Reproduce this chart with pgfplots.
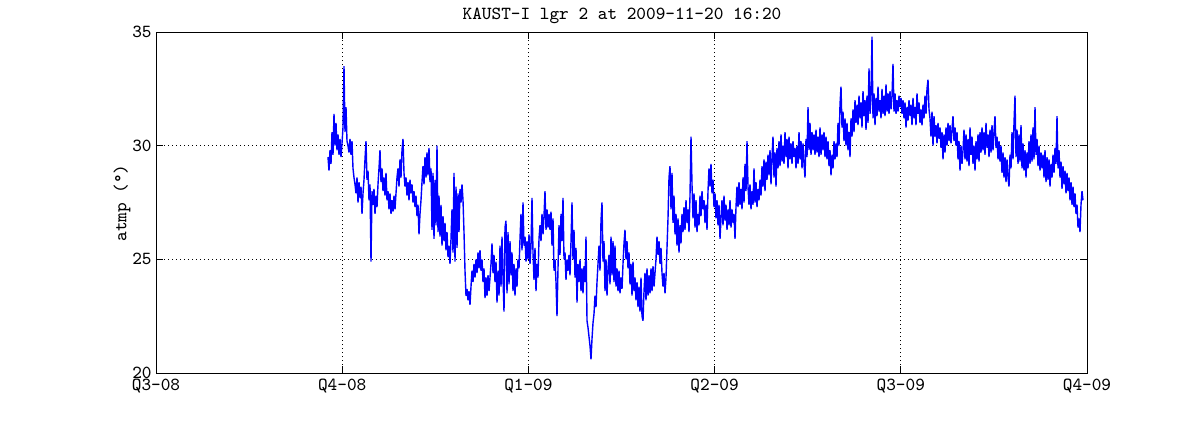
\documentclass[border=0pt]{standalone}
\usepackage{pgfplots}
\pgfplotsset{compat=1.18}
\begin{document}
\begin{tikzpicture}
\path[use as bounding box] (0,0) rectangle (600pt,210pt);
\begin{axis}[
  at={(78pt,23.5pt)}, anchor=south west,
  scale only axis, width=465.5pt, height=170.5pt,
  xmin=0, xmax=931, ymin=20, ymax=35,
  xtick={0,186.2,372.4,558.6,744.8,931},
  xticklabels={Q3-08,Q4-08,Q1-09,Q2-09,Q3-09,Q4-09},
  ytick={20,25,30,35},
  yticklabels={20,25,30,35},
  tick align=inside, major tick length=3.5pt,
  xtick pos=both, ytick pos=both,
  every tick/.style={black, line width=0.5pt},
  axis line style={black, line width=0.5pt},
  grid=major,
  major grid style={black, line width=0.45pt, dash pattern=on 0.5pt off 1.5pt},
  ticklabel style={font=\fontsize{9.2}{10}\ttfamily},
  xticklabel style={anchor=base, yshift=-8.6pt},
  yticklabel style={anchor=east, inner xsep=0pt, xshift=-2pt},
]
\addplot[blue, line width=0.7pt, mark=none, line join=miter, miter limit=2] coordinates {
(172,29.5)(173,28.9)(174,29.8)(175,29.2)(176,30.6)(177,29.6)(178,31.4)(179,30.0)(180,31.0)(181,29.8)
(182,30.5)(183,29.6)(184,30.3)(185,29.5)(186,30.1)(187,30.8)(188,33.5)(189,30.6)(190,31.7)(191,30.2)
(192,30.0)(193,29.7)(194,30.3)(195,29.6)(196,30.2)(197,29.0)(198,28.6)(199,28.3)(200,27.9)(201,28.6)
(202,27.5)(203,28.4)(204,27.7)(205,28.2)(206,27.0)(207,27.9)(208,28.5)(209,29.4)(210,30.2)(211,28.5)
(212,28.9)(213,27.6)(214,28.3)(215,24.9)(216,28.0)(217,27.4)(218,28.1)(219,27.0)(220,27.8)(221,27.3)
(222,28.3)(223,29.0)(224,29.8)(225,28.4)(226,29.0)(227,28.0)(228,28.6)(229,27.8)(230,28.8)(231,27.6)
(232,28.0)(233,27.2)(234,27.9)(235,27.0)(236,27.6)(237,27.1)(238,27.8)(239,27.2)(240,27.9)(241,28.6)
(242,29.0)(243,28.2)(244,29.4)(245,28.6)(246,29.8)(247,30.3)(248,28.8)(249,28.2)(250,28.6)(251,27.8)
(252,28.4)(253,27.6)(254,28.5)(255,27.9)(256,28.3)(257,27.5)(258,28.0)(259,27.3)(260,27.8)(261,26.9)
(262,27.4)(263,26.1)(264,27.0)(265,27.6)(266,28.4)(267,29.1)(268,28.3)(269,29.5)(270,28.6)(271,29.7)
(272,28.7)(273,29.9)(274,28.4)(275,29.0)(276,26.3)(277,28.8)(278,25.9)(279,28.5)(280,26.5)(281,30.0)
(282,26.2)(283,27.8)(284,26.0)(285,27.4)(286,25.6)(287,26.9)(288,25.8)(289,26.6)(290,25.4)(291,26.2)
(292,25.1)(293,25.6)(294,24.8)(295,25.9)(296,27.2)(297,25.3)(298,28.8)(299,24.9)(300,28.2)(301,25.5)
(302,27.9)(303,26.2)(304,28.1)(305,27.5)(306,28.3)(307,27.6)(308,26.2)(309,24.5)(310,23.4)(311,23.7)
(312,23.2)(313,23.6)(314,23.0)(315,23.8)(316,24.5)(317,24.0)(318,24.8)(319,24.2)(320,25.0)(321,24.4)
(322,25.3)(323,24.6)(324,25.4)(325,24.5)(326,25.0)(327,24.0)(328,24.6)(329,23.3)(330,24.2)(331,23.4)
(332,24.3)(333,23.6)(334,24.2)(335,24.8)(336,25.7)(337,24.4)(338,25.2)(339,24.0)(340,24.9)(341,23.1)
(342,24.5)(343,23.4)(344,25.6)(345,23.8)(346,26.0)(347,24.2)(348,22.7)(349,26.4)(350,26.7)(351,23.5)
(352,26.2)(353,23.9)(354,25.8)(355,24.3)(356,25.3)(357,23.6)(358,24.8)(359,23.4)(360,24.6)(361,23.8)
(362,25.0)(363,24.6)(364,25.9)(365,27.0)(366,25.4)(367,27.5)(368,25.6)(369,26.0)(370,24.9)(371,25.8)
(372,25.0)(373,26.1)(374,24.8)(375,25.6)(376,27.7)(377,25.3)(378,24.1)(379,25.5)(380,23.6)(381,24.8)
(382,24.2)(383,25.9)(384,26.5)(385,25.8)(386,27.0)(387,26.1)(388,26.9)(389,28.0)(390,26.3)(391,27.2)
(392,26.4)(393,27.0)(394,26.3)(395,27.1)(396,25.6)(397,26.8)(398,24.5)(399,25.0)(400,24.0)(401,22.5)
(402,24.6)(403,26.5)(404,25.2)(405,27.0)(406,25.8)(407,27.7)(408,25.0)(409,25.3)(410,24.1)(411,25.0)
(412,24.5)(413,25.2)(414,24.3)(415,25.8)(416,27.5)(417,25.0)(418,26.3)(419,24.2)(420,25.5)(421,23.1)
(422,24.8)(423,24.0)(424,25.0)(425,23.6)(426,24.6)(427,23.5)(428,24.7)(429,24.0)(430,26.0)(431,22.3)
(432,22.0)(433,21.6)(434,21.2)(435,20.6)(436,21.5)(437,22.2)(438,22.6)(439,23.4)(440,22.9)(441,24.0)
(442,24.8)(443,25.6)(444,24.5)(445,26.7)(446,27.5)(447,24.9)(448,25.8)(449,23.6)(450,25.0)(451,23.4)
(452,24.6)(453,25.2)(454,23.9)(455,26.0)(456,24.3)(457,25.8)(458,24.0)(459,25.6)(460,23.8)(461,24.6)
(462,23.6)(463,24.5)(464,23.5)(465,24.2)(466,23.7)(467,24.8)(468,25.7)(469,26.3)(470,25.0)(471,25.8)
(472,24.6)(473,25.3)(474,23.9)(475,24.8)(476,23.4)(477,24.9)(478,23.6)(479,24.2)(480,23.2)(481,24.0)
(482,22.9)(483,23.8)(484,22.7)(485,24.2)(486,22.5)(487,22.3)(488,23.6)(489,24.4)(490,23.2)(491,24.6)
(492,23.4)(493,24.3)(494,23.5)(495,24.6)(496,23.6)(497,24.7)(498,23.8)(499,24.4)(500,25.0)(501,26.0)
(502,25.2)(503,25.8)(504,24.8)(505,25.5)(506,24.4)(507,23.8)(508,24.4)(509,23.5)(510,24.2)(511,25.5)
(512,26.8)(513,28.6)(514,29.1)(515,27.2)(516,28.8)(517,26.6)(518,27.8)(519,26.1)(520,27.0)(521,25.6)
(522,26.8)(523,25.3)(524,26.5)(525,25.7)(526,27.0)(527,26.2)(528,27.3)(529,26.3)(530,27.6)(531,26.6)
(532,27.2)(533,26.2)(534,27.8)(535,30.4)(536,28.3)(537,26.8)(538,27.9)(539,26.4)(540,27.6)(541,26.2)
(542,27.0)(543,26.5)(544,27.8)(545,26.9)(546,28.0)(547,27.2)(548,27.6)(549,26.6)(550,27.4)(551,26.3)
(552,28.0)(553,29.0)(554,28.2)(555,29.2)(556,27.9)(557,28.5)(558,27.3)(559,27.9)(560,26.8)(561,27.6)
(562,26.5)(563,27.4)(564,25.9)(565,26.8)(566,27.6)(567,26.5)(568,27.8)(569,26.7)(570,27.4)(571,26.3)
(572,27.2)(573,26.5)(574,27.6)(575,26.4)(576,27.2)(577,26.6)(578,27.0)(579,25.9)(580,27.3)(581,28.2)
(582,27.3)(583,28.4)(584,27.4)(585,28.1)(586,27.2)(587,28.6)(588,27.5)(589,29.2)(590,28.0)(591,30.2)
(592,28.2)(593,27.4)(594,28.3)(595,27.2)(596,28.0)(597,27.4)(598,29.0)(599,27.5)(600,28.4)(601,27.3)
(602,28.1)(603,27.6)(604,28.5)(605,27.8)(606,29.1)(607,28.2)(608,29.4)(609,28.0)(610,29.3)(611,28.5)
(612,29.6)(613,28.7)(614,29.8)(615,28.3)(616,29.5)(617,30.4)(618,28.6)(619,29.7)(620,28.2)(621,29.9)
(622,29.0)(623,30.2)(624,29.1)(625,30.5)(626,29.3)(627,30.0)(628,29.2)(629,30.6)(630,29.5)(631,30.3)
(632,29.0)(633,30.4)(634,29.4)(635,30.1)(636,29.2)(637,30.2)(638,29.5)(639,29.9)(640,29.0)(641,30.0)
(642,29.2)(643,30.6)(644,29.4)(645,30.2)(646,29.0)(647,30.1)(648,29.2)(649,28.6)(650,30.3)(651,29.5)
(652,31.7)(653,29.8)(654,31.0)(655,29.6)(656,30.6)(657,29.8)(658,30.5)(659,29.6)(660,30.7)(661,29.7)
(662,30.4)(663,29.5)(664,30.8)(665,29.6)(666,30.5)(667,29.8)(668,30.6)(669,29.5)(670,30.4)(671,29.4)
(672,30.2)(673,29.1)(674,29.8)(675,28.7)(676,29.6)(677,29.0)(678,30.2)(679,29.4)(680,30.1)(681,29.5)
(682,31.0)(683,30.0)(684,31.8)(685,32.6)(686,30.8)(687,31.5)(688,30.2)(689,31.2)(690,30.0)(691,31.0)
(692,29.8)(693,30.6)(694,29.5)(695,31.2)(696,30.4)(697,31.6)(698,30.6)(699,32.0)(700,31.0)(701,31.8)
(702,30.9)(703,32.2)(704,31.2)(705,31.9)(706,30.8)(707,32.4)(708,31.3)(709,32.0)(710,30.7)(711,32.2)
(712,31.0)(713,33.4)(714,31.4)(715,32.1)(716,34.8)(717,31.2)(718,32.3)(719,30.9)(720,32.1)(721,31.3)
(722,32.6)(723,31.5)(724,32.0)(725,31.2)(726,32.5)(727,31.4)(728,32.2)(729,31.3)(730,32.7)(731,31.5)
(732,32.3)(733,31.4)(734,32.4)(735,31.6)(736,32.2)(737,33.6)(738,31.5)(739,32.3)(740,31.4)(741,32.0)
(742,31.5)(743,32.2)(744,31.7)(745,32.1)(746,31.4)(747,32.0)(748,31.2)(749,31.9)(750,30.8)(751,31.7)
(752,31.1)(753,32.0)(754,31.3)(755,31.8)(756,30.9)(757,32.1)(758,31.2)(759,31.7)(760,30.9)(761,32.3)
(762,31.4)(763,31.9)(764,31.0)(765,31.6)(766,30.9)(767,31.8)(768,31.2)(769,32.2)(770,31.4)(771,32.5)
(772,32.9)(773,31.6)(774,31.2)(775,30.4)(776,31.5)(777,30.0)(778,31.3)(779,30.4)(780,30.9)(781,30.1)
(782,31.0)(783,30.3)(784,30.8)(785,29.9)(786,30.6)(787,29.4)(788,30.5)(789,29.7)(790,30.8)(791,30.0)
(792,31.0)(793,30.2)(794,30.9)(795,30.1)(796,30.7)(797,31.3)(798,30.2)(799,30.8)(800,30.0)(801,30.6)
(802,29.4)(803,30.2)(804,28.9)(805,30.0)(806,29.2)(807,29.8)(808,30.7)(809,29.4)(810,30.5)(811,29.3)
(812,30.3)(813,29.1)(814,30.8)(815,29.6)(816,30.4)(817,29.2)(818,30.0)(819,28.9)(820,30.2)(821,29.4)
(822,30.5)(823,29.3)(824,30.6)(825,29.7)(826,30.8)(827,29.8)(828,30.6)(829,29.6)(830,31.0)(831,29.9)
(832,30.5)(833,29.5)(834,30.7)(835,29.7)(836,30.9)(837,29.8)(838,30.6)(839,31.3)(840,29.9)(841,30.4)
(842,29.4)(843,30.2)(844,29.3)(845,30.0)(846,28.8)(847,29.7)(848,28.6)(849,29.5)(850,28.4)(851,29.4)
(852,28.6)(853,28.2)(854,29.6)(855,29.0)(856,30.6)(857,29.4)(858,31.0)(859,32.2)(860,29.5)(861,30.7)
(862,29.2)(863,30.5)(864,29.3)(865,30.9)(866,29.0)(867,30.1)(868,28.9)(869,29.8)(870,28.6)(871,29.7)
(872,29.0)(873,30.2)(874,29.2)(875,30.5)(876,29.3)(877,30.8)(878,29.4)(879,31.7)(880,29.6)(881,30.3)
(882,29.1)(883,30.0)(884,28.9)(885,29.7)(886,29.0)(887,29.6)(888,28.6)(889,29.8)(890,28.4)(891,29.5)
(892,28.5)(893,29.4)(894,28.2)(895,29.2)(896,28.6)(897,29.6)(898,28.8)(899,29.9)(900,29.2)(901,31.3)
(902,29.0)(903,29.8)(904,28.6)(905,29.3)(906,28.1)(907,29.1)(908,28.3)(909,28.9)(910,27.9)(911,28.8)
(912,28.0)(913,28.6)(914,27.6)(915,28.4)(916,27.4)(917,28.2)(918,27.3)(919,27.9)(920,27.0)(921,27.4)
(922,26.4)(923,26.8)(924,26.2)(925,27.4)(926,28.0)(927,27.6)
};
\end{axis}
\node[font=\fontsize{9.2}{10}\ttfamily, anchor=center] at (311pt,202pt) {KAUST-I lgr 2 at 2009-11-20 16:20};
\node[font=\fontsize{9.2}{10}\ttfamily, rotate=90, anchor=center] at (61pt,108.5pt) {atmp (°)};
\end{tikzpicture}
\end{document}
